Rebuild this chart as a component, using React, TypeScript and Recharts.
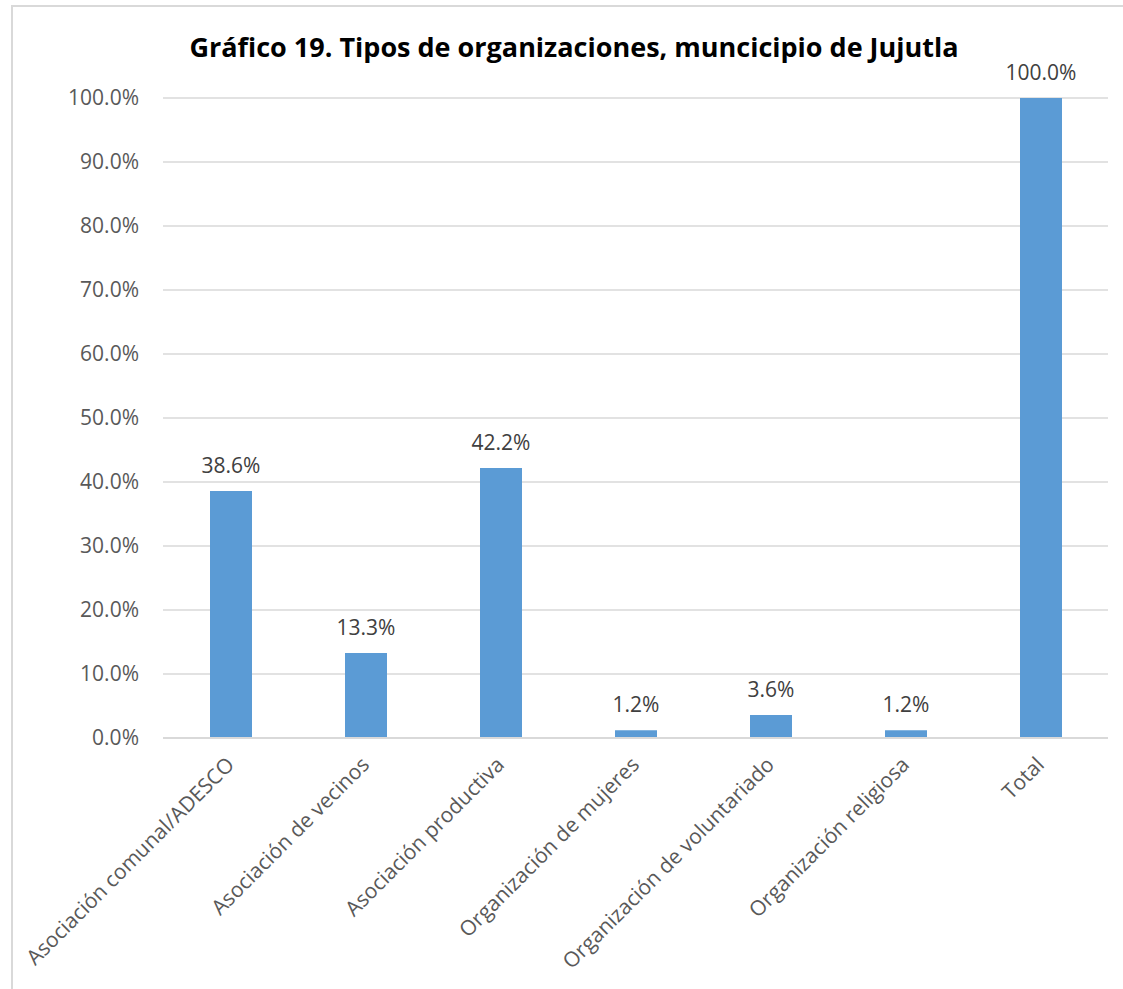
import { BarChart, Bar, XAxis, YAxis, CartesianGrid, LabelList } from 'recharts';

const categories = [
  'Asociación comunal/ADESCO',
  'Asociación de vecinos',
  'Asociación productiva',
  'Organización de mujeres',
  'Organización de voluntariado',
  'Organización religiosa',
  'Total',
];
const shares = [38.6, 13.3, 42.2, 1.2, 3.6, 1.2, 100.0];
const yTicks = [0, 10, 20, 30, 40, 50, 60, 70, 80, 90, 100];

const data = categories.map((name, i) => ({ name, value: shares[i] }));

const FONT = '"Open Sans", sans-serif';
const GRID = '#d9d9d9';
const BAR = '#5b9bd5';

const pct = (v: number) => `${v.toFixed(1)}%`;

function RotatedTick(props: any) {
  const { x, y, payload } = props;
  return (
    <text
      transform={`translate(${x + 5},${y + 20}) rotate(-45)`}
      textAnchor="end"
      fill="#595959"
      fontSize={21}
      fontFamily={FONT}
    >
      {payload.value}
    </text>
  );
}

export default function App() {
  return (
    <div
      style={{
        position: 'absolute',
        left: 0,
        top: 0,
        width: 1123,
        height: 989,
        overflow: 'hidden',
        background: '#fff',
      }}
    >
      <div
        style={{
          position: 'absolute',
          left: 11,
          top: 5,
          width: 1130,
          height: 1010,
          border: `2px solid ${GRID}`,
        }}
      />
      <svg width={1123} height={989} style={{ position: 'absolute', left: 0, top: 0 }}>
        <text x={574} y={57} textAnchor="middle" fontFamily={FONT} fontWeight={700} fontSize={27} fill="#000">
          Gráfico 19. Tipos de organizaciones, muncicipio de Jujutla
        </text>
      </svg>
      <div style={{ position: 'absolute', left: 0, top: 0 }}>
        <BarChart width={1123} height={989} data={data} margin={{ top: 98, right: 15, bottom: 0, left: 0 }}>
          <CartesianGrid vertical={false} stroke={GRID} strokeWidth={1.5} />
          <XAxis
            dataKey="name"
            interval={0}
            height={251}
            axisLine={{ stroke: GRID, strokeWidth: 2 }}
            tickLine={false}
            tick={<RotatedTick />}
          />
          <YAxis
            width={163}
            domain={[0, 100]}
            ticks={yTicks}
            tickFormatter={pct}
            axisLine={false}
            tickLine={false}
            tickMargin={18}
            tick={{ fill: '#595959', fontSize: 21, fontFamily: FONT }}
          />
          <Bar dataKey="value" fill={BAR} barSize={42} isAnimationActive={false}>
            <LabelList
              dataKey="value"
              position="top"
              offset={18}
              formatter={(v: any) => pct(Number(v))}
              fill="#404040"
              fontSize={21}
              fontFamily={FONT}
            />
          </Bar>
        </BarChart>
      </div>
    </div>
  );
}
